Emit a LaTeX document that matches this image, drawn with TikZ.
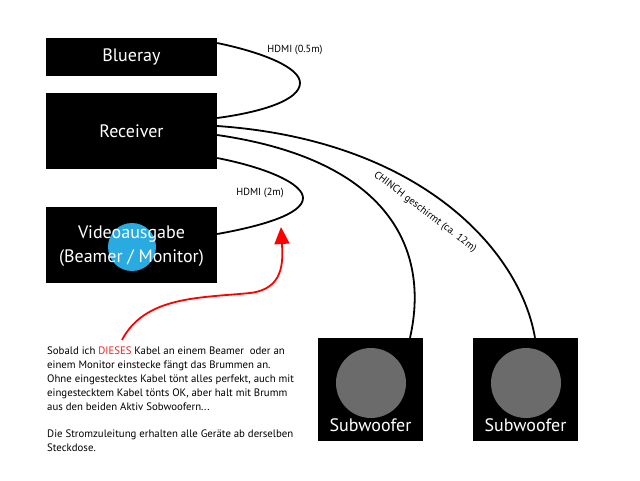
\documentclass[tikz,border=0pt]{standalone}
\usepackage{fontspec}
\setmainfont{PT Sans}
\usetikzlibrary{arrows.meta}
\definecolor{bluedot}{HTML}{29ABE2}
\definecolor{cone}{HTML}{6B6B6B}
\definecolor{redtxt}{HTML}{F01E1E}
\begin{document}
\begin{tikzpicture}[x=1pt,y=-1pt,
  devbox/.style={fill=black,draw=none,inner sep=0pt,minimum width=171pt},
  lbl/.style={text=white,font=\fontsize{18}{21}\selectfont,align=center,inner sep=0pt},
  cable/.style={draw=black,line width=1.8pt},
  small/.style={font=\fontsize{10.3}{12}\selectfont,inner sep=0pt},
  subbox/.style={fill=black,draw=none,inner sep=0pt,minimum width=105pt,minimum height=103pt},
  cone/.style={circle,fill=cone,draw=none,minimum size=70pt,inner sep=0pt}]
\useasboundingbox[fill=white] (0,0) rectangle (640,480);
% devices
\node[devbox,minimum height=38pt] (blu) at (131.5,57) {};
\node[lbl] (blut) at (131.5,57) {Blueray};
\node[devbox,minimum height=76pt] (rec) at (131.5,131) {};
\node[lbl] (rect) at (131.5,131) {Receiver};
\node[devbox,minimum height=76pt] (vid) at (131.5,245) {};
\node[circle,fill=bluedot,minimum size=48pt,inner sep=0pt] (dot) at (132,247) {};
\node[lbl,font=\fontsize{18}{24}\selectfont] (vidt) at (131.5,246) {Videoausgabe\\(Beamer / Monitor)};
% subwoofers
\node[subbox] (sub1) at (370.5,389.5) {};
\node[cone] (c1) at (371,383) {};
\node[lbl] (s1t) at (370.5,425) {Subwoofer};
\node[subbox] (sub2) at (525.5,389.5) {};
\node[cone] (c2) at (526,383) {};
\node[lbl] (s2t) at (525.5,425) {Subwoofer};
% cables
\draw[cable] ([yshift=14pt]blu.east) .. controls (265,53) and (300,68) .. (300,83)
   .. controls (300,100) and (262,112) .. ([yshift=13pt]rec.east);
\draw[cable] ([yshift=-27pt]rec.east) .. controls (268,168) and (303,184) .. (303,198)
   .. controls (303,214) and (262,226) .. ([yshift=11pt]vid.east);
\draw[cable] ([yshift=-4pt]rec.east) .. controls (390,160) and (430,250) .. ([xshift=39.5pt]sub1.north);
\draw[cable] ([yshift=5pt]rec.east) .. controls (420,140) and (520,250) .. ([xshift=9.5pt]sub2.north);
% labels
\node[small] (h1) at (295,50) {HDMI (0.5m)};
\node[small] (h2) at (260,193) {HDMI (2m)};
\node[small,rotate=-37] (ch) at (425,212) {CHINCH geschirmt (ca. 12m)};
% text
\node[anchor=north west,inner sep=0pt,align=left,font=\fontsize{10.8}{13.8}\selectfont] (txt) at (47,347)
 {Sobald ich \textcolor{redtxt}{DIESES} Kabel an einem Beamer\ \ oder an\\
  einem Monitor einstecke fängt das Brummen an.\\
  Ohne eingestecktes Kabel tönt alles perfekt, auch mit\\
  eingestecktem Kabel tönts OK, aber halt mit Brumm\\
  aus den beiden Aktiv Sobwoofern...\\[13.8pt]
  Die Stromzuleitung erhalten alle Geräte ab derselben\\
  Steckdose.};
% red arrow
\coordinate (as) at (122,340);
\coordinate (ae) at (281,227);
\draw[draw=red,line width=1.8pt,-{Triangle[length=17pt,width=15pt]}]
  (as) .. controls (145,296) and (200,298) .. (250,293) .. controls (284,289) and (283,262) .. (ae);
\end{tikzpicture}
\end{document}
